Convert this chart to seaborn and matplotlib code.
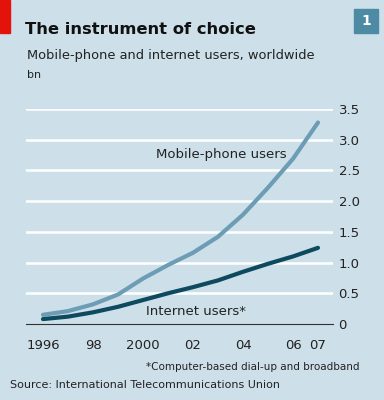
import matplotlib
matplotlib.use("Agg")
import matplotlib.pyplot as plt
import seaborn as sns
import pandas as pd
from matplotlib.patches import Rectangle

# data, bn users
years = [1996, 1997, 1998, 1999, 2000, 2001, 2002, 2003, 2004, 2005, 2006, 2007]
mobile = [0.15, 0.21, 0.32, 0.48, 0.74, 0.96, 1.16, 1.42, 1.78, 2.22, 2.69, 3.28]
internet = [0.08, 0.12, 0.19, 0.28, 0.39, 0.50, 0.60, 0.71, 0.85, 0.98, 1.10, 1.24]
tick_years = [1996, 1998, 2000, 2002, 2004, 2006, 2007]
tick_labels = ["1996", "98", "2000", "02", "04", "06", "07"]
y_ticks = [0, 0.5, 1.0, 1.5, 2.0, 2.5, 3.0, 3.5]
y_labels = ["0", "0.5", "1.0", "1.5", "2.0", "2.5", "3.0", "3.5"]

bg = "#cddfe9"
mobile_col = "#6c9db4"
internet_col = "#0d4a60"

df = pd.DataFrame({"year": years, "mobile": mobile, "internet": internet})

sns.set_style("white")
plt.rcParams['font.family'] = ['DejaVu Sans']

fig = plt.figure(figsize=(3.84, 4.0), dpi=100, facecolor=bg)
ax = fig.add_axes([26/384, 1-324/400, (333-26)/384, (324-109)/400])
ax.set_facecolor(bg)

ax.set_xlim(1995.32, 2007.6)
ax.set_ylim(0, 3.5)

# white gridlines
for v in y_ticks[1:]:
    ax.axhline(v, color="white", lw=1.8, zorder=1)

sns.lineplot(data=df, x="year", y="mobile", color=mobile_col, lw=3, ax=ax, zorder=3)
sns.lineplot(data=df, x="year", y="internet", color=internet_col, lw=3, ax=ax, zorder=4)

for s in ["top", "left", "right"]:
    ax.spines[s].set_visible(False)
ax.spines["bottom"].set_color("#333333")
ax.spines["bottom"].set_linewidth(0.8)

ax.set_xticks(tick_years)
ax.set_xticklabels(tick_labels, fontsize=9.5, color="#222222")
ax.set_xticks(years, minor=True)
ax.tick_params(axis="x", which="major", length=6, width=0.8, color="#333333", pad=5)
ax.tick_params(axis="x", which="minor", length=3, width=0.8, color="#333333")

ax.yaxis.tick_right()
ax.set_yticks(y_ticks)
ax.set_yticklabels(y_labels, fontsize=9.5, color="#222222")
ax.tick_params(axis="y", length=0, pad=4)
ax.set_xlabel("")
ax.set_ylabel("")

ax.text(2000.5, 2.76, "Mobile-phone users", fontsize=9.5, color="#222222",
        va="center", ha="left", zorder=5)
ax.text(2002.1, 0.2, "Internet users*", fontsize=9.5, color="#222222",
        va="center", ha="center", zorder=5)

# header
fig.patches.append(Rectangle((0, 1-33/400), 10/384, 33/400, transform=fig.transFigure,
                             color="#e3120b", zorder=5))
fig.patches.append(Rectangle((354/384, 1-33/400), 24/384, 24/400, transform=fig.transFigure,
                             color="#4d8aa3", zorder=5))
fig.text(366/384, 1-21/400, "1", fontsize=10, fontweight="bold", color="white",
         ha="center", va="center", zorder=6)
fig.text(25/384, 1-29/400, "The instrument of choice", fontsize=11.8, fontweight="bold",
         color="#111111", ha="left", va="center")
fig.text(27/384, 1-56/400, "Mobile-phone and internet users, worldwide", fontsize=9.4,
         color="#222222", ha="left", va="center")
fig.text(27/384, 1-75/400, "bn", fontsize=8, color="#222222", ha="left", va="center")

fig.text(360/384, 1-367/400, "*Computer-based dial-up and broadband", fontsize=7.5,
         color="#222222", ha="right", va="center")
fig.text(10/384, 1-385/400, "Source: International Telecommunications Union", fontsize=8,
         color="#222222", ha="left", va="center")

fig.savefig("out.png", dpi=100, facecolor=bg)
